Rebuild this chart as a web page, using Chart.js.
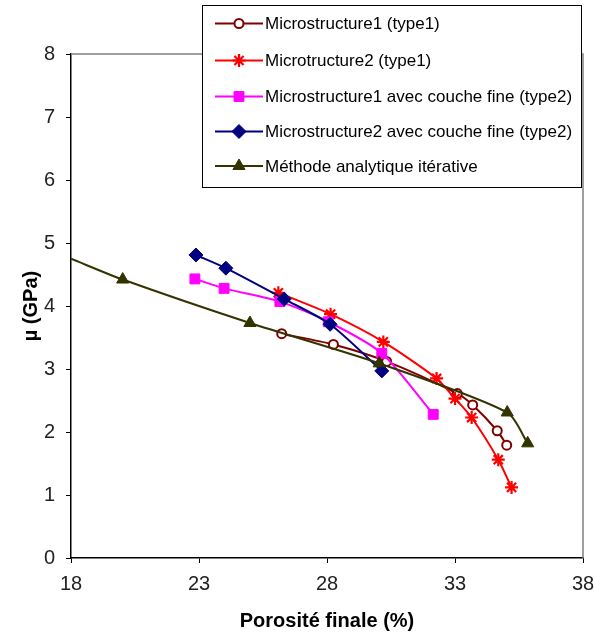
<!DOCTYPE html>
<html>
<head>
<meta charset="utf-8">
<script src="https://cdn.jsdelivr.net/npm/chart.js@4.4.1/dist/chart.umd.min.js"></script>
<style>
  html, body { margin: 0; padding: 0; background: #fff; }
  #wrap { width: 594px; height: 637px; }
</style>
</head>
<body>
<div id="wrap"><canvas id="c" width="594" height="637"></canvas></div>
<script>
// ---- Data ----
const xTicks = [18, 23, 28, 33, 38];
const yTicks = [0, 1, 2, 3, 4, 5, 6, 7, 8];

const seriesNames = [
  "Microstructure1 (type1)",
  "Microtructure2 (type1)",
  "Microstructure1 avec couche fine (type2)",
  "Microstructure2 avec couche fine (type2)",
  "Méthode analytique itérative"
];

const micro1X = [26.23, 28.25, 30.33, 33.09, 33.69, 34.65, 35.02];
const micro1Y = [3.56, 3.39, 3.12, 2.61, 2.43, 2.02, 1.79];

const micro2X = [26.10, 28.14, 30.20, 32.28, 33.00, 33.65, 34.69, 35.21];
const micro2Y = [4.21, 3.87, 3.43, 2.85, 2.53, 2.23, 1.56, 1.12];

const micro1FineX = [22.84, 23.98, 26.16, 28.05, 30.14, 32.15];
const micro1FineY = [4.43, 4.28, 4.07, 3.75, 3.25, 2.28];

const micro2FineX = [22.88, 24.05, 26.33, 28.12, 30.14];
const micro2FineY = [4.81, 4.60, 4.11, 3.71, 2.97];

const analyticX = [18.00, 20.02, 24.99, 30.04, 35.04, 35.84];
const analyticY = [4.75, 4.42, 3.73, 3.09, 2.31, 1.82];

// ---- Build datasets ----
function pts(xs, ys) { return xs.map((x, i) => ({ x: x, y: ys[i] })); }

const styles = [
  { color: '#800000', pointStyle: 'circle', radius: 4.5, fill: '#ffffff', bw: 2 },
  { color: '#ff0000', pointStyle: 'star', radius: 6.5, fill: '#ff0000', bw: 2.2 },
  { color: '#ff00ff', pointStyle: 'rect', radius: 7, fill: '#ff00ff', bw: 1 },
  { color: '#000080', pointStyle: 'rectRot', radius: 7, fill: '#000080', bw: 1 },
  { color: '#333300', pointStyle: 'triangle', radius: 7, fill: '#333300', bw: 1 }
];
const seriesData = [
  pts(micro1X, micro1Y),
  pts(micro2X, micro2Y),
  pts(micro1FineX, micro1FineY),
  pts(micro2FineX, micro2FineY),
  pts(analyticX, analyticY)
];

const datasets = seriesData.map((d, i) => {
  const s = styles[i];
  return {
    label: seriesNames[i],
    data: d,
    showLine: true,
    borderColor: s.color,
    backgroundColor: s.fill,
    borderWidth: 2,
    tension: 0.25,
    pointStyle: s.pointStyle,
    pointRadius: (ctx) => (ctx.raw && ctx.raw.x <= 18 ? 0 : s.radius),
    pointBorderColor: s.color,
    pointBackgroundColor: s.fill,
    pointBorderWidth: s.bw,
    order: 5 - i
  };
});

// ---- Plugins ----
const framePlugin = {
  id: 'frame',
  beforeDatasetsDraw(chart) {
    const { ctx, chartArea: a } = chart;
    ctx.save();
    ctx.strokeStyle = '#808080';
    ctx.lineWidth = 1.5;
    ctx.beginPath();
    ctx.moveTo(a.left, a.top);
    ctx.lineTo(a.right, a.top);
    ctx.lineTo(a.right, a.bottom);
    ctx.stroke();
    ctx.restore();
  }
};

const legendPlugin = {
  id: 'boxLegend',
  afterDraw(chart) {
    const ctx = chart.ctx;
    const box = { x: 202, y: 5, w: 379, h: 182 };
    const rowsY = [23.5, 60.5, 96.5, 131.5, 166];
    ctx.save();
    ctx.fillStyle = '#ffffff';
    ctx.fillRect(box.x, box.y, box.w, box.h);
    ctx.strokeStyle = '#000000';
    ctx.lineWidth = 1;
    ctx.strokeRect(box.x + 0.5, box.y + 0.5, box.w, box.h);
    chart.data.datasets.forEach((ds, i) => {
      const y = rowsY[i];
      ctx.strokeStyle = ds.borderColor;
      ctx.lineWidth = 2;
      ctx.beginPath();
      ctx.moveTo(215, y);
      ctx.lineTo(263, y);
      ctx.stroke();
      const s = styles[i];
      ctx.fillStyle = s.fill;
      ctx.strokeStyle = s.color;
      ctx.lineWidth = s.bw;
      Chart.helpers.drawPoint(ctx, { pointStyle: s.pointStyle, radius: s.radius, rotation: 0, borderWidth: s.bw }, 239, y);
      ctx.fillStyle = '#000000';
      ctx.font = '17px "Liberation Sans", Arial, sans-serif';
      ctx.textBaseline = 'middle';
      ctx.textAlign = 'left';
      ctx.fillText(ds.label, 265, y + 1);
    });
    ctx.restore();
  }
};

Chart.defaults.font.family = '"Liberation Sans", Arial, sans-serif';

new Chart(document.getElementById('c'), {
  type: 'scatter',
  data: { datasets: datasets },
  plugins: [framePlugin, legendPlugin],
  options: {
    responsive: false,
    animation: false,
    devicePixelRatio: 1,
    layout: { padding: { left: 0, top: 54, right: 11, bottom: 0 } },
    plugins: { legend: { display: false }, tooltip: { enabled: false } },
    scales: {
      x: {
        type: 'linear',
        min: xTicks[0],
        max: xTicks[xTicks.length - 1],
        afterBuildTicks(scale) { scale.ticks = xTicks.map(v => ({ value: v })); },
        afterFit(scale) { scale.height = 79; scale.paddingLeft = 0; scale.paddingRight = 0; },
        grid: { drawOnChartArea: false, drawTicks: true, tickLength: 5, color: '#000000' },
        border: { display: true, color: '#000000', width: 1.5 },
        ticks: { color: '#222222', font: { size: 20 }, padding: 9, maxRotation: 0 },
        title: {
          display: true,
          text: 'Porosité finale (%)',
          color: '#000000',
          font: { size: 20, weight: 'bold' },
          padding: { top: 0, bottom: 4 }
        }
      },
      y: {
        type: 'linear',
        min: yTicks[0],
        max: yTicks[yTicks.length - 1],
        afterBuildTicks(scale) { scale.ticks = yTicks.map(v => ({ value: v })); },
        afterFit(scale) { scale.width = 71; scale.paddingTop = 0; scale.paddingBottom = 0; },
        grid: { drawOnChartArea: false, drawTicks: true, tickLength: 5, color: '#000000' },
        border: { display: true, color: '#000000', width: 1.5 },
        ticks: { color: '#222222', font: { size: 20 }, padding: 11 },
        title: {
          display: true,
          text: 'µ (GPa)',
          color: '#000000',
          font: { size: 20, weight: 'bold' },
          padding: { top: 19, bottom: 0 }
        }
      }
    }
  }
});
</script>
</body>
</html>
